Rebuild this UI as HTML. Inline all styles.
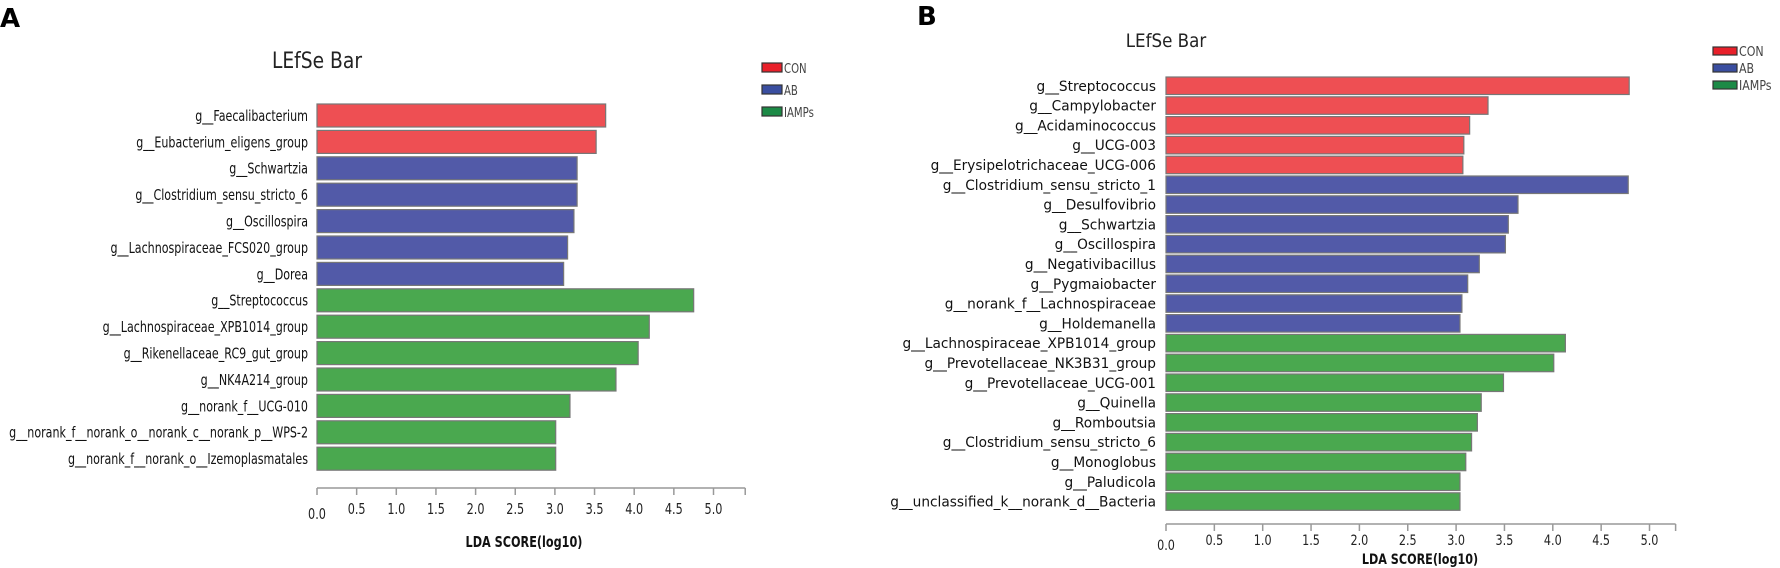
<!DOCTYPE html>
<html><head><meta charset="utf-8"><style>
html,body{margin:0;padding:0;background:#fff;}
svg{display:block;}
text{font-family:"DejaVu Sans","Liberation Sans",sans-serif;}
</style></head><body>
<svg id="fig" width="1780" height="568" viewBox="0 0 1780 568" xmlns="http://www.w3.org/2000/svg">
<text x="0" y="27" font-family="Liberation Sans, sans-serif" font-weight="bold" font-size="26">A</text>
<text x="917" y="25" font-family="Liberation Sans, sans-serif" font-weight="bold" font-size="26">B</text>
<text x="317" y="68" text-anchor="middle" font-size="22" fill="#222" transform="translate(317,68) scale(0.85,1) translate(-317,-68)">LEfSe Bar</text>
<text x="1166" y="47" text-anchor="middle" font-size="19" fill="#222" transform="translate(1166,47) scale(0.88,1) translate(-1166,-47)">LEfSe Bar</text>
<g id="gA"></g><g id="gB"></g>
</svg>
<script>
const aLabels = ["g__Faecalibacterium","g__Eubacterium_eligens_group","g__Schwartzia","g__Clostridium_sensu_stricto_6","g__Oscillospira","g__Lachnospiraceae_FCS020_group","g__Dorea","g__Streptococcus","g__Lachnospiraceae_XPB1014_group","g__Rikenellaceae_RC9_gut_group","g__NK4A214_group","g__norank_f__UCG-010","g__norank_f__norank_o__norank_c__norank_p__WPS-2","g__norank_f__norank_o__Izemoplasmatales"];
const aValues = [3.64,3.52,3.28,3.28,3.24,3.16,3.11,4.75,4.19,4.05,3.77,3.19,3.01,3.01];
const aGroups = ["CON","CON","AB","AB","AB","AB","AB","IAMPs","IAMPs","IAMPs","IAMPs","IAMPs","IAMPs","IAMPs"];
const bLabels = ["g__Streptococcus","g__Campylobacter","g__Acidaminococcus","g__UCG-003","g__Erysipelotrichaceae_UCG-006","g__Clostridium_sensu_stricto_1","g__Desulfovibrio","g__Schwartzia","g__Oscillospira","g__Negativibacillus","g__Pygmaiobacter","g__norank_f__Lachnospiraceae","g__Holdemanella","g__Lachnospiraceae_XPB1014_group","g__Prevotellaceae_NK3B31_group","g__Prevotellaceae_UCG-001","g__Quinella","g__Romboutsia","g__Clostridium_sensu_stricto_6","g__Monoglobus","g__Paludicola","g__unclassified_k__norank_d__Bacteria"];
const bValues = [4.79,3.33,3.14,3.08,3.07,4.78,3.64,3.54,3.51,3.24,3.12,3.06,3.04,4.13,4.01,3.49,3.26,3.22,3.16,3.10,3.04,3.04];
const bGroups = ["CON","CON","CON","CON","CON","AB","AB","AB","AB","AB","AB","AB","AB","IAMPs","IAMPs","IAMPs","IAMPs","IAMPs","IAMPs","IAMPs","IAMPs","IAMPs"];
const ticks = ["0.0","0.5","1.0","1.5","2.0","2.5","3.0","3.5","4.0","4.5","5.0"];
const legendNames = ["CON","AB","IAMPs"];
const barColor = {CON:"#ee4f53",AB:"#525aa8",IAMPs:"#4aa84f"};
const legColor = {CON:"#e8202a",AB:"#3a4ea0",IAMPs:"#1c8a46"};
const NS="http://www.w3.org/2000/svg";
function mk(p,tag,at){const e=document.createElementNS(NS,tag);for(const k in at)e.setAttribute(k,at[k]);p.appendChild(e);return e;}
function sq(el,x,y,f){el.setAttribute("transform","translate("+x+","+y+") scale("+f+",1) translate("+(-x)+","+(-y)+")");}
function panel(g,cfg,labels,values,groups,pfx){
  const x=v=>cfg.x0+v*cfg.unit;
  const y=i=>cfg.top+i*cfg.pitch;
  const labelEls=[];
  labels.forEach((l,i)=>{
    const r=mk(g,"rect",{x:x(0),y:y(i),width:x(values[i])-x(0),height:cfg.bh,fill:barColor[groups[i]],stroke:"#777","stroke-width":1.2});
    
    
    const t=mk(g,"text",{x:cfg.x0-cfg.lgap,y:y(i)+cfg.bh/2+cfg.fs*0.36,"text-anchor":"end","font-size":cfg.fs,fill:"#111"});
    t.textContent=l;
    
    
    labelEls.push(t);
  });
  // horizontal condensing factor from widest label
  let maxL=0;labelEls.forEach(t=>{maxL=Math.max(maxL,t.getComputedTextLength());});
  const f=maxL>0?cfg.maxW/maxL:1;
  labelEls.forEach((t,i)=>sq(t,cfg.x0-cfg.lgap,0,f));
  const ax=mk(g,"line",{x1:x(0),x2:x(cfg.axEnd),y1:cfg.axY,y2:cfg.axY,stroke:"#999","stroke-width":1.5});
  
  
  const endT=mk(g,"line",{x1:x(cfg.axEnd),x2:x(cfg.axEnd),y1:cfg.axY,y2:cfg.axY+7,stroke:"#999","stroke-width":1.5});
  
  
  ticks.forEach((tk,i)=>{
    const v=parseFloat(tk);
    const tl=mk(g,"line",{x1:x(v),x2:x(v),y1:cfg.axY,y2:cfg.axY+7,stroke:"#999","stroke-width":1.5});
    
    
    const tt=mk(g,"text",{x:x(v),y:cfg.axY+cfg.tlOff+(i===0?5:0),"text-anchor":"middle","font-size":cfg.tfs,fill:"#222"});
    tt.textContent=tk;
    
    
    sq(tt,x(v),0,cfg.tsq);
  });
  const xt=mk(g,"text",{x:cfg.xtX,y:cfg.xtY,"text-anchor":"middle","font-size":cfg.xfs,"font-weight":"bold",fill:"#111"});
  xt.textContent="LDA SCORE(log10)";
  
  
  sq(xt,cfg.xtX,0,cfg.tsq);
  legendNames.forEach((n,i)=>{
    const ly=cfg.legY+i*cfg.legP;
    const lr=mk(g,"rect",{x:cfg.legX,y:ly,width:cfg.legW,height:cfg.legH,fill:legColor[n],stroke:"#333","stroke-width":1.2});
    
    
    const lt=mk(g,"text",{x:cfg.legX+cfg.legW+2,y:ly+cfg.legH+1,"font-size":cfg.lfs,fill:"#444"});
    lt.textContent=n;
    
    
    sq(lt,cfg.legX+cfg.legW+2,0,cfg.lsq);
  });
}
panel(document.getElementById("gA"),{x0:317,unit:79.3,top:104,pitch:26.4,bh:23,fs:15,lgap:9,maxW:299,axY:488,axEnd:5.4,tlOff:26,tfs:15,tsq:0.75,xtX:524,xtY:547,xfs:15,legX:762,legY:63,legP:22,legW:20,legH:9,lfs:13,lsq:0.78},aLabels,aValues,aGroups,"a");
panel(document.getElementById("gB"),{x0:1166,unit:96.7,top:77,pitch:19.8,bh:17.5,fs:14,lgap:10,maxW:266,axY:524,axEnd:5.27,tlOff:21,tfs:14,tsq:0.8,xtX:1420,xtY:564,xfs:14,legX:1713,legY:47,legP:17,legW:24,legH:8,lfs:13,lsq:0.85},bLabels,bValues,bGroups,"b");
</script>
</body></html>
